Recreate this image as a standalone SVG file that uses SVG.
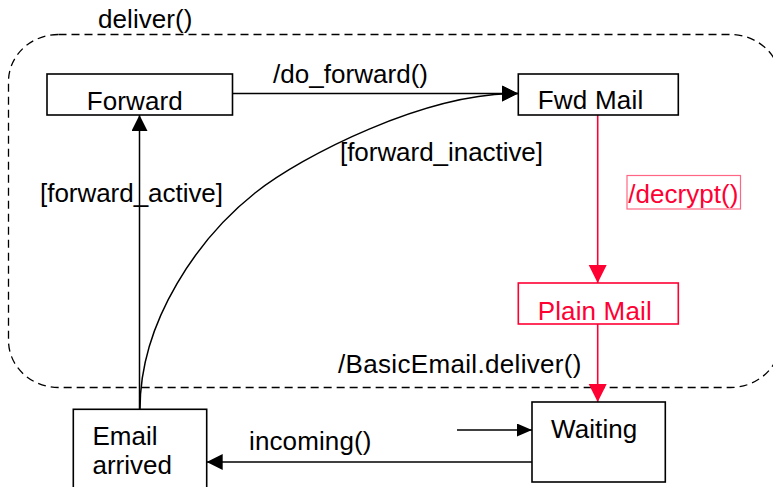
<svg xmlns="http://www.w3.org/2000/svg" width="773" height="487" viewBox="0 0 773 487">
  <style>
    text { font-family: "Liberation Sans", Arial, sans-serif; font-size: 26px; fill: #000; }
    .red-text { fill: #ff0033; }
    .box { fill: #fff; stroke: #000; stroke-width: 1.6; }
    .box-red { fill: #fff; stroke: #ff0033; stroke-width: 1.6; }
    .edge { fill: none; stroke: #000; stroke-width: 1.5; }
    .edge-red { fill: none; stroke: #ff0033; stroke-width: 1.6; }
    .frame { fill: none; stroke: #000; stroke-width: 1.3; stroke-dasharray: 8 5; }
  </style>
  <defs>
    <marker id="arrow" markerUnits="userSpaceOnUse" markerWidth="17" markerHeight="17" refX="16" refY="8" orient="auto">
      <path d="M0,0 L16,8 L0,16 Z" fill="#000"/>
    </marker>
    <marker id="arrow-small" markerUnits="userSpaceOnUse" markerWidth="16" markerHeight="14" refX="15" refY="6.5" orient="auto">
      <path d="M0,0 L15,6.5 L0,13 Z" fill="#000"/>
    </marker>
    <marker id="arrow-red" markerUnits="userSpaceOnUse" markerWidth="19" markerHeight="19" refX="18" refY="9" orient="auto">
      <path d="M0,0 L18,9 L0,18 Z" fill="#ff0033"/>
    </marker>
  </defs>

  <!-- composite state deliver() -->
  <g id="deliver">
    <rect class="frame" x="8.5" y="34.5" width="772" height="353" rx="50" ry="47"/>
    <text x="98" y="28" textLength="94.5">deliver()</text>
  </g>

  <!-- transitions -->
  <g id="connectors">
    <path class="edge" d="M232,93.5 L518,93.5" marker-end="url(#arrow)"/>
    <path class="edge" d="M140,409 C140,319 200.4,236.4 255,193 C301.8,155.8 425,93 518,93.5" marker-end="url(#arrow)"/>
    <path class="edge" d="M139.5,409 L139.5,115" marker-end="url(#arrow)"/>
    <path class="edge-red" d="M597.7,115 L597.7,283" marker-end="url(#arrow-red)"/>
    <path class="edge-red" d="M597.7,324 L597.7,402" marker-end="url(#arrow-red)"/>
    <path class="edge" d="M457,430 L532,430" marker-end="url(#arrow-small)"/>
    <path class="edge" d="M532,462 L206.7,462" marker-end="url(#arrow)"/>
  </g>

  <!-- transition labels -->
  <g id="labels">
    <text x="273" y="82.5" textLength="155">/do_forward()</text>
    <text x="340" y="161" textLength="203">[forward_inactive]</text>
    <text x="40" y="201.5" textLength="183">[forward_active]</text>
    <rect x="627" y="175.5" width="113.5" height="33.5" fill="none" stroke="#ff0033" stroke-opacity="0.6" stroke-width="1.2"/>
    <text class="red-text" x="628.3" y="203" textLength="110">/decrypt()</text>
    <text x="338" y="373" textLength="243.5">/BasicEmail.deliver()</text>
    <text x="249" y="450" textLength="122.5">incoming()</text>
  </g>

  <g id="forward">
    <rect class="box" x="47" y="74" width="185.5" height="41"/>
    <text x="86.7" y="110" textLength="96">Forward</text>
  </g>

  <g id="fwd-mail">
    <rect class="box" x="518.3" y="74" width="160" height="41"/>
    <text x="537.7" y="109.3" textLength="105.5">Fwd Mail</text>
  </g>

  <g id="plain-mail">
    <rect class="box-red" x="518.3" y="283" width="160" height="41"/>
    <text class="red-text" x="537.7" y="320" textLength="114">Plain Mail</text>
  </g>

  <g id="waiting">
    <rect class="box" x="532" y="402" width="133.3" height="80"/>
    <text x="551" y="438.3" textLength="86.3">Waiting</text>
  </g>

  <g id="email-arrived">
    <rect class="box" x="73.3" y="409.3" width="133.4" height="85"/>
    <text x="92.5" y="445">Email</text>
    <text x="92.5" y="474">arrived</text>
  </g>
</svg>
